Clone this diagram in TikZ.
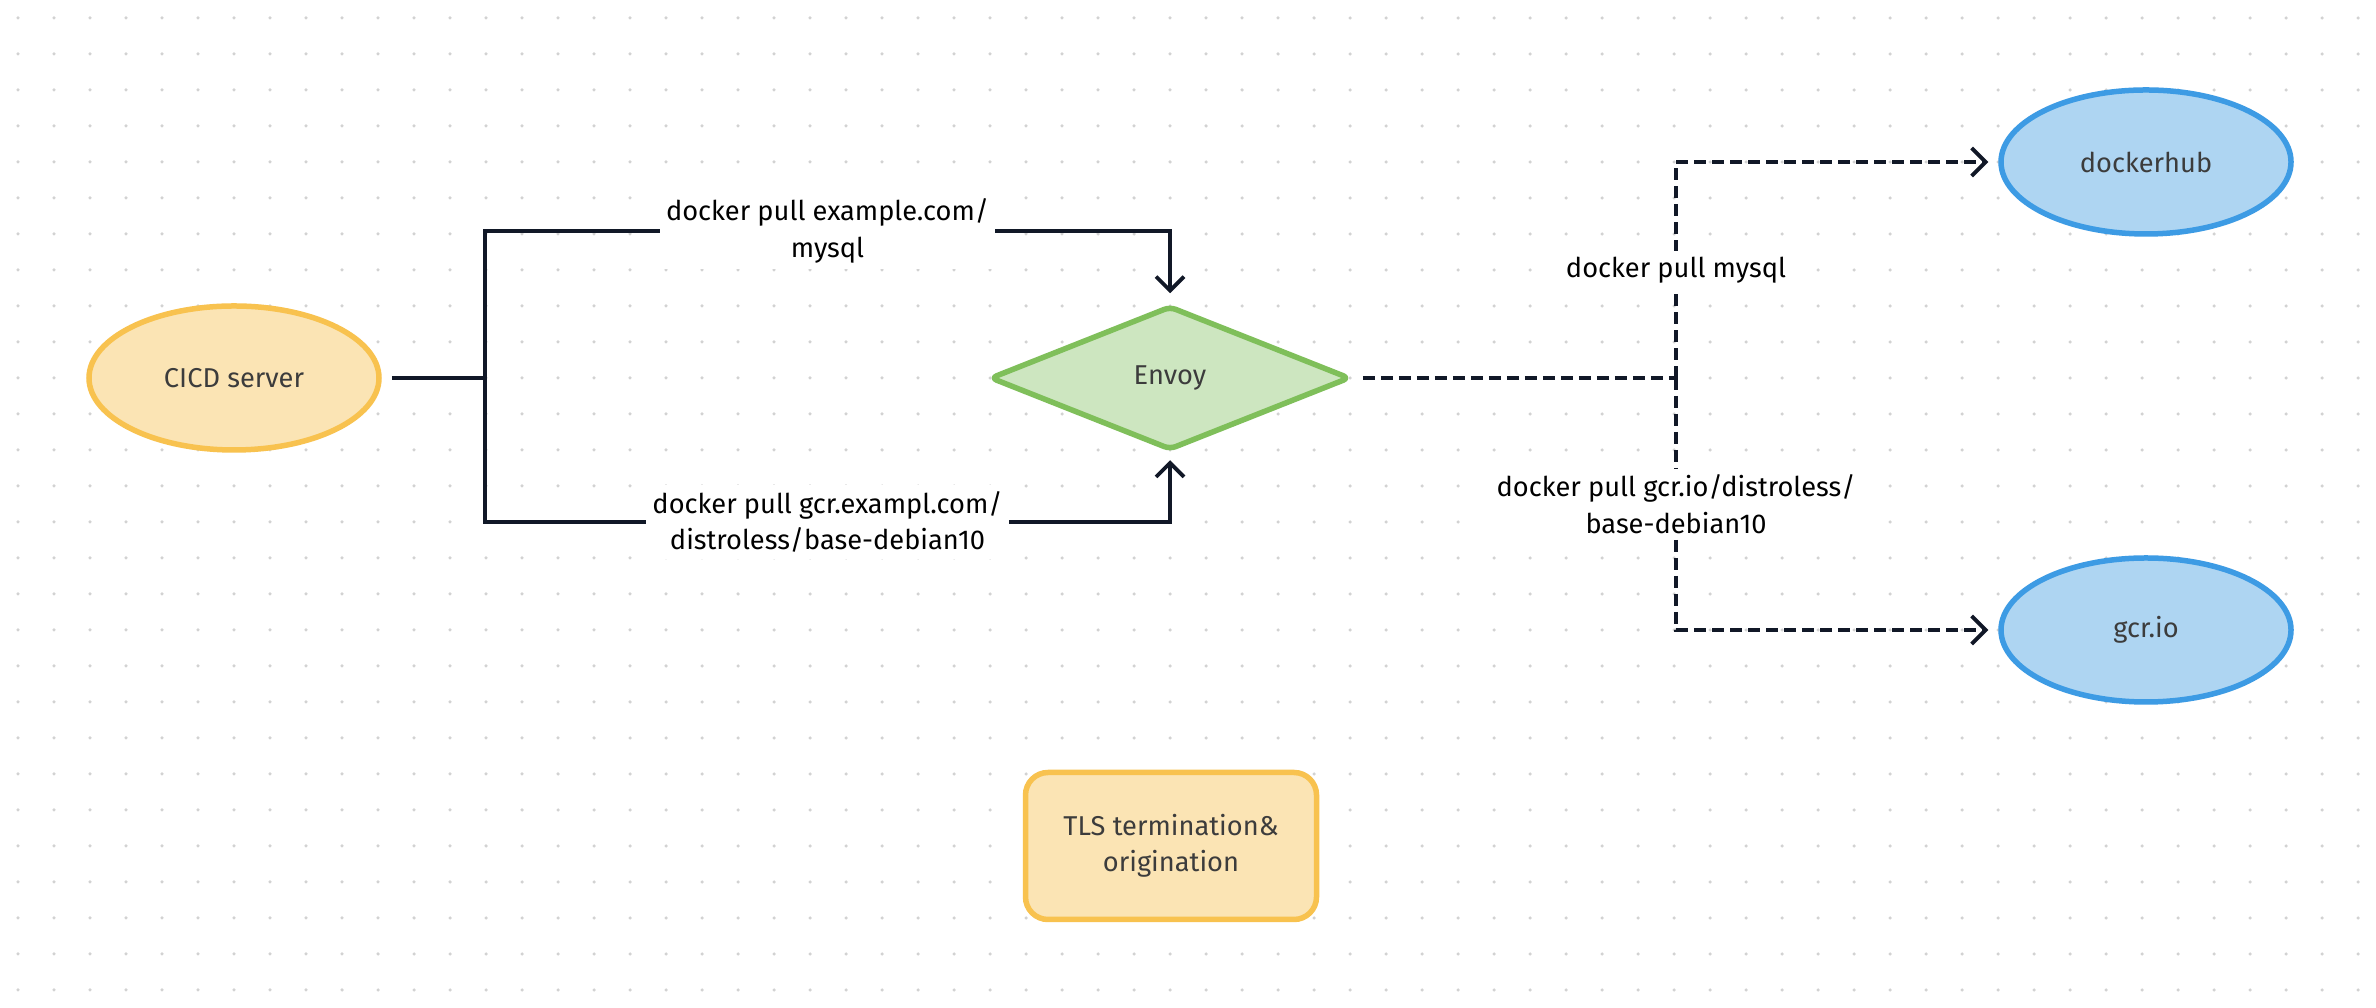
\documentclass[tikz,border=0pt]{standalone}
\usepackage{fontspec}
\setmainfont{Fira Sans}
\usepackage{xcolor}
\usetikzlibrary{shapes.geometric, arrows.meta}

\definecolor{gridgray}{HTML}{D2D2D2}
\definecolor{sunfill}{HTML}{FBE4B4}
\definecolor{sunline}{HTML}{F8C24F}
\definecolor{leaffill}{HTML}{CDE6C0}
\definecolor{leafline}{HTML}{7FBF5A}
\definecolor{skyfill}{HTML}{AED5F2}
\definecolor{skyline}{HTML}{3D9BE4}
\definecolor{inkline}{HTML}{111827}
\definecolor{nodetext}{HTML}{3C3C3C}

\newcommand{\diafont}{\fontsize{15.5}{20.8}\selectfont}

\begin{document}
\begin{tikzpicture}[
    >={Straight Barb[length=0.28cm, width=0.56cm]},
    blob/.style={ellipse, line width=0.11cm, minimum width=5.8cm, minimum height=2.88cm,
        inner sep=0pt, text=nodetext, font=\diafont},
    proxy/.style={diamond, draw=leafline, fill=leaffill, line width=0.11cm, line join=round,
        rounded corners=0.12cm, minimum width=7.2cm, minimum height=2.88cm, inner sep=0pt,
        text=nodetext, font=\diafont},
    notebox/.style={rectangle, rounded corners=0.45cm, draw=sunline, fill=sunfill, line width=0.11cm,
        minimum width=5.82cm, minimum height=2.94cm, align=center, text=nodetext, font=\diafont},
    pull/.style={fill=white, align=center, inner sep=0.12cm, text=black, font=\diafont},
    solidlink/.style={draw=inkline, line width=0.075cm},
    dashlink/.style={draw=inkline, line width=0.075cm, dash pattern=on 0.24cm off 0.12cm}
]
    % canvas and dotted grid
    \useasboundingbox[fill=white] (0, 0) rectangle (47.52, 20.16);
    \foreach \i in {0,...,65}
        \foreach \j in {0,...,27}
            \fill[gridgray] (0.36+0.72*\i, 0.36+0.72*\j) circle [radius=0.035];

    % nodes
    \node [blob, draw=sunline, fill=sunfill] (cicd) at (4.68, 12.6) {CICD server};
    \node [proxy] (envoy) at (23.4, 12.6) {Envoy};
    \node [blob, draw=skyline, fill=skyfill] (dockerhub) at (42.92, 16.92) {dockerhub};
    \node [blob, draw=skyline, fill=skyfill] (gcrio) at (42.92, 7.56) {gcr.io};
    \node [notebox] (tls) at (23.42, 3.24) {TLS termination\&\\origination};

    % left side: two pulls into envoy
    \coordinate (fork) at (9.7, 12.6);
    \coordinate (forkup) at (9.7, 15.54);
    \coordinate (forkdown) at (9.7, 9.72);
    \draw [solidlink, shorten <=0.2cm] (cicd.east) -- (fork);
    \draw [solidlink, ->, shorten >=0.2cm] (fork) -- (forkup) -| node [pull, pos=0.25]
        {docker pull example.com/\\mysql} (envoy.north);
    \draw [solidlink, ->, shorten >=0.15cm] (fork) -- (forkdown) -| node [pull, pos=0.25]
        {docker pull gcr.exampl.com/\\distroless/base-debian10} (envoy.south);

    % right side: envoy to the registries
    \coordinate (relay) at (33.52, 12.6);
    \draw [dashlink, shorten <=0.2cm] (envoy.east) -- (relay);
    \draw [dashlink, ->, shorten >=0.2cm] (relay) |- node [pull, pos=0.25]
        {docker pull mysql} (dockerhub.west);
    \draw [dashlink, ->, shorten >=0.2cm] (relay) |- node [pull, pos=0.25]
        {docker pull gcr.io/distroless/\\base-debian10} (gcrio.west);
\end{tikzpicture}
\end{document}
